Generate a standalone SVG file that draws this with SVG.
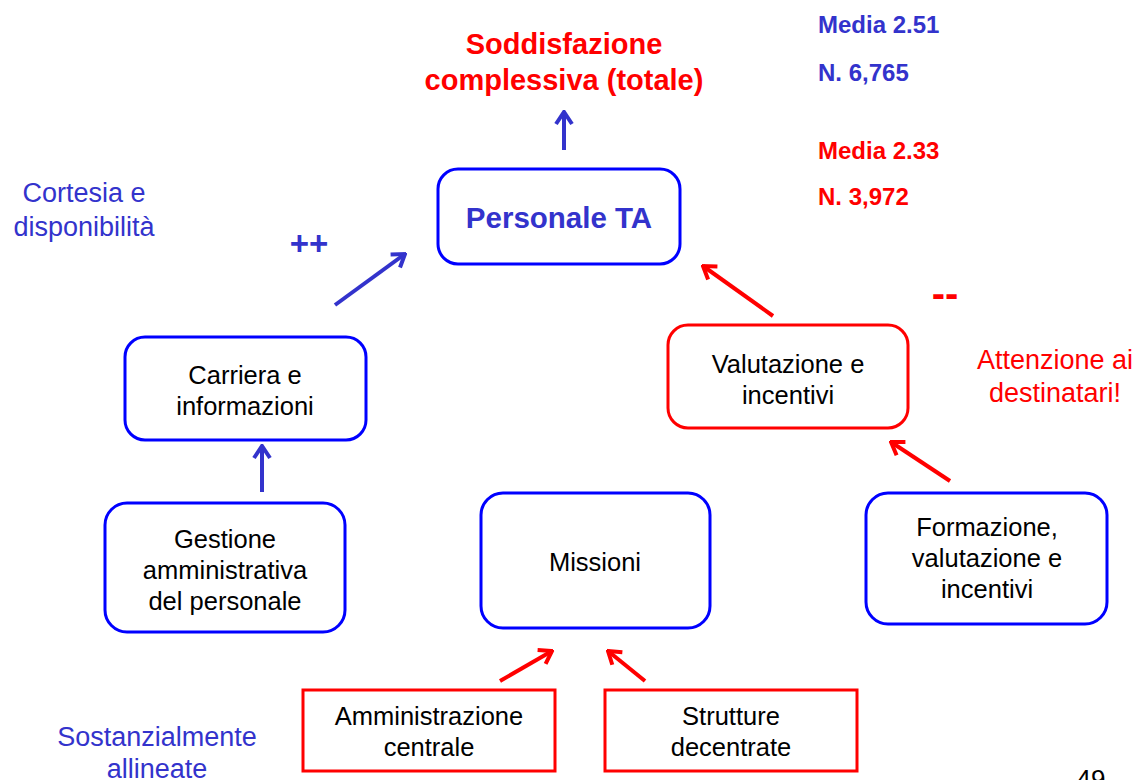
<svg xmlns="http://www.w3.org/2000/svg" width="1137" height="780" viewBox="0 0 1137 780">
<defs>
<style>
text{font-family:"Liberation Sans",Arial,sans-serif;text-anchor:middle}
.bx{fill:#fff;stroke:#0000ff;stroke-width:3}
.rx{fill:#fff;stroke:#ff0000;stroke-width:3}
.t{font-size:25.5px;fill:#000}
.bl{fill:#3333cc}
.rd{fill:#ff0000}
.b{font-weight:bold}
.ab{stroke:#3333cc;stroke-width:4;fill:none}
.ar{stroke:#ff0000;stroke-width:4;fill:none}
</style>
<marker id="mb" markerUnits="userSpaceOnUse" viewBox="-14 -10 16 20" refX="0" refY="0" markerWidth="16" markerHeight="20" orient="auto"><path d="M-12,-8 L0,0 L-12,8" fill="none" stroke="#3333cc" stroke-width="4"/></marker>
<marker id="mr" markerUnits="userSpaceOnUse" viewBox="-14 -10 16 20" refX="0" refY="0" markerWidth="16" markerHeight="20" orient="auto"><path d="M-12,-8 L0,0 L-12,8" fill="none" stroke="#ff0000" stroke-width="4"/></marker>
</defs>
<rect width="1137" height="780" fill="#fff"/>

<g id="labels">
<text class="rd b" x="564" y="54" font-size="29">Soddisfazione</text>
<text class="rd b" x="564" y="90" font-size="29">complessiva (totale)</text>
<text class="bl b" x="818" y="33" font-size="24" style="text-anchor:start">Media 2.51</text>
<text class="bl b" x="818" y="81" font-size="24" style="text-anchor:start">N. 6,765</text>
<text class="rd b" x="818" y="159" font-size="24" style="text-anchor:start">Media 2.33</text>
<text class="rd b" x="818" y="205" font-size="24" style="text-anchor:start">N. 3,972</text>
<text class="bl" x="84" y="202" font-size="27">Cortesia e</text>
<text class="bl" x="84" y="236" font-size="27">disponibilità</text>
<text class="bl b" x="309" y="255" font-size="33">++</text>
<text class="rd b" x="945" y="307" font-size="40">--</text>
<text class="rd" x="1055" y="369" font-size="27">Attenzione ai</text>
<text class="rd" x="1055" y="402" font-size="27">destinatari!</text>
<text class="bl" x="157" y="746" font-size="27">Sostanzialmente</text>
<text class="bl" x="157" y="778" font-size="27">allineate</text>
<text x="1091" y="788" font-size="26" fill="#000">49</text>
</g>

<g id="node-personale">
<rect class="bx" x="438" y="169" width="242" height="95" rx="20"/>
<text class="bl b" x="559" y="228" font-size="29.5">Personale TA</text>
</g>
<g id="node-carriera">
<rect class="bx" x="125" y="337" width="241" height="103" rx="20"/>
<text class="t" x="245" y="384">Carriera e</text>
<text class="t" x="245" y="415">informazioni</text>
</g>
<g id="node-gestione">
<rect class="bx" x="105" y="503" width="240" height="129" rx="22"/>
<text class="t" x="225" y="548">Gestione</text>
<text class="t" x="225" y="579">amministrativa</text>
<text class="t" x="225" y="610">del personale</text>
</g>
<g id="node-missioni">
<rect class="bx" x="481" y="493" width="229" height="135" rx="22"/>
<text class="t" x="595" y="571">Missioni</text>
</g>
<g id="node-valutazione">
<rect class="rx" x="668" y="325" width="240" height="103" rx="20"/>
<text class="t" x="788" y="373">Valutazione e</text>
<text class="t" x="788" y="404">incentivi</text>
</g>
<g id="node-formazione">
<rect class="bx" x="866" y="493" width="241" height="131" rx="22"/>
<text class="t" x="987" y="536">Formazione,</text>
<text class="t" x="987" y="567">valutazione e</text>
<text class="t" x="987" y="598">incentivi</text>
</g>
<g id="node-amministrazione">
<rect class="rx" x="303" y="690" width="252" height="81"/>
<text class="t" x="429" y="725">Amministrazione</text>
<text class="t" x="429" y="756">centrale</text>
</g>
<g id="node-strutture">
<rect class="rx" x="605" y="690" width="252" height="81"/>
<text class="t" x="731" y="725">Strutture</text>
<text class="t" x="731" y="756">decentrate</text>
</g>

<g id="connectors">
<line class="ab" x1="564" y1="150" x2="564" y2="112" marker-end="url(#mb)"/>
<line class="ab" x1="335" y1="305" x2="405" y2="254" marker-end="url(#mb)"/>
<line class="ab" x1="262" y1="492" x2="262" y2="446" marker-end="url(#mb)"/>
<line class="ar" x1="773" y1="316" x2="703" y2="266" marker-end="url(#mr)"/>
<line class="ar" x1="950" y1="481" x2="891" y2="442" marker-end="url(#mr)"/>
<line class="ar" x1="500" y1="681" x2="552" y2="651" marker-end="url(#mr)"/>
<line class="ar" x1="645" y1="681" x2="608" y2="651" marker-end="url(#mr)"/>
</g>
</svg>
